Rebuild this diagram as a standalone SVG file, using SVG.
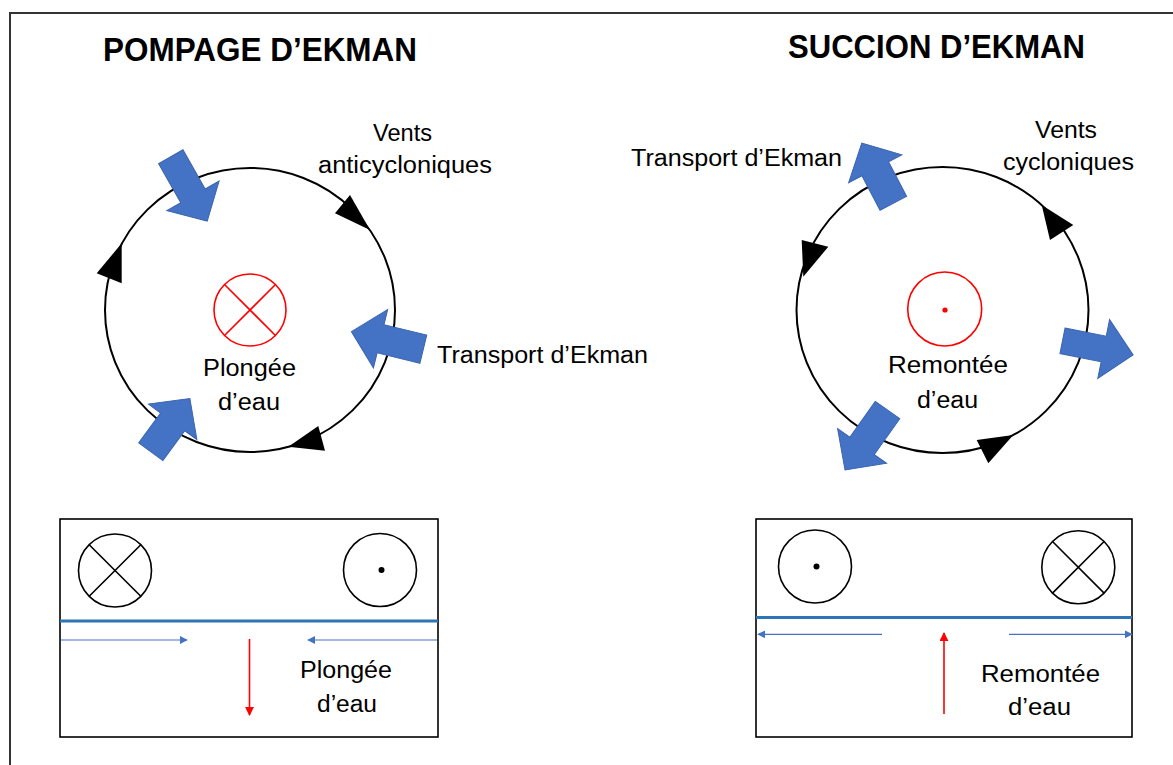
<svg xmlns="http://www.w3.org/2000/svg" width="1173" height="765" viewBox="0 0 1173 765">
<defs>
<style>
text{font-family:"Liberation Sans",Arial,sans-serif;font-size:23.5px;fill:#000}
.title{font-size:33px;font-weight:bold}
.big{fill:none;stroke:#000;stroke-width:2}
.red{fill:none;stroke:#FF0000;stroke-width:1.6}
.sm{fill:none;stroke:#000;stroke-width:1.6}
.tri{fill:#000}
.blk{fill:#4472C4;stroke:#3B64AE;stroke-width:1}
.box{fill:#fff;stroke:#000;stroke-width:1.6}
.surf{stroke:#2E75B6;stroke-width:3}
.thin{stroke:#4472C4;stroke-width:1.2;fill:none}
.rarr{stroke:#FF0000;stroke-width:1.6;fill:none}
</style>
<marker id="bh" viewBox="0 0 10 10" refX="9" refY="5" markerWidth="8" markerHeight="8" markerUnits="userSpaceOnUse" orient="auto">
<path d="M0,0 L10,5 L0,10 Z" fill="#4472C4"/>
</marker>
<marker id="rh" viewBox="0 0 10 10" refX="9" refY="5" markerWidth="9" markerHeight="9" markerUnits="userSpaceOnUse" orient="auto">
<path d="M0,0 L10,5 L0,10 Z" fill="#FF0000"/>
</marker>
</defs>
<rect width="1173" height="765" fill="#fff"/>
<g id="frame">
<polyline points="10,765 10,13 1173,13" fill="none" stroke="#333" stroke-width="2"/>
</g>

<g id="pompage">
<text class="title" x="103" y="61" textLength="314" lengthAdjust="spacingAndGlyphs">POMPAGE D’EKMAN</text>
<ellipse class="big" cx="250" cy="310" rx="145" ry="142"/>
<g id="plongee-center">
<circle class="red" cx="250" cy="310" r="36"/>
<line class="red" x1="224.5" y1="284.5" x2="275.5" y2="335.5"/>
<line class="red" x1="275.5" y1="284.5" x2="224.5" y2="335.5"/>
</g>
<polygon class="tri" points="350,195 335,213.3 370,230"/>
<polygon class="tri" points="121.7,243.3 96.7,273.3 121.7,283.3"/>
<polygon class="tri" points="318.3,426 325,450.7 288.3,446.7"/>
<text x="373" y="141" textLength="59" lengthAdjust="spacingAndGlyphs">Vents</text>
<text x="318" y="173" textLength="174" lengthAdjust="spacingAndGlyphs">anticycloniques</text>
<text x="437" y="363" textLength="211" lengthAdjust="spacingAndGlyphs">Transport d’Ekman</text>
<text x="203" y="376" textLength="93" lengthAdjust="spacingAndGlyphs">Plongée</text>
<text x="218" y="410" textLength="62" lengthAdjust="spacingAndGlyphs">d’eau</text>
</g>

<g id="succion">
<text class="title" x="788" y="58" textLength="297" lengthAdjust="spacingAndGlyphs">SUCCION D’EKMAN</text>
<ellipse class="big" cx="942.5" cy="310" rx="146" ry="143"/>
<g id="remontee-center">
<circle class="red" cx="944.7" cy="309" r="37"/>
<circle cx="945" cy="310" r="2.6" fill="#FF0000"/>
</g>
<polygon class="tri" points="1041.7,205 1050,240 1073.3,225"/>
<polygon class="tri" points="801.7,240 828.3,246.7 803.3,276.7"/>
<polygon class="tri" points="976.7,440 988.3,463.3 1013.3,435"/>
<text x="1035" y="138" textLength="62" lengthAdjust="spacingAndGlyphs">Vents</text>
<text x="1003" y="170" textLength="131" lengthAdjust="spacingAndGlyphs">cycloniques</text>
<text x="631" y="166" textLength="211" lengthAdjust="spacingAndGlyphs">Transport d’Ekman</text>
<text x="888" y="373" textLength="120" lengthAdjust="spacingAndGlyphs">Remontée</text>
<text x="917" y="408" textLength="61" lengthAdjust="spacingAndGlyphs">d’eau</text>
</g>

<g id="connectors">
<path class="blk" transform="translate(170.8,156.7) rotate(60.5)" d="M0,-14 L45,-14 L45,-30 L74,0 L45,30 L45,14 L0,14 Z"/>
<path class="blk" transform="translate(423.3,349.2) rotate(193.7)" d="M0,-14.5 L44,-14.5 L44,-30 L74,0 L44,30 L44,14.5 L0,14.5 Z"/>
<path class="blk" transform="translate(150.8,451.7) rotate(-53.7)" d="M0,-15 L37,-15 L37,-30 L66,0 L37,30 L37,15 L0,15 Z"/>
<path class="blk" transform="translate(893.3,203.3) rotate(-117.6)" d="M0,-15 L39,-15 L39,-30 L68,0 L39,30 L39,15 L0,15 Z"/>
<path class="blk" transform="translate(1062.5,340.8) rotate(11.3)" d="M0,-13 L42,-13 L42,-30 L72,0 L42,30 L42,13 L0,13 Z"/>
<path class="blk" transform="translate(887.5,410) rotate(125.3)" d="M0,-15 L44,-15 L44,-30 L73.5,0 L44,30 L44,15 L0,15 Z"/>
</g>

<g id="box-pompage">
<rect class="box" x="60" y="519" width="378" height="218"/>
<circle class="sm" cx="115" cy="570.5" r="36.5"/>
<line class="sm" x1="89.2" y1="544.7" x2="140.8" y2="596.3"/>
<line class="sm" x1="140.8" y1="544.7" x2="89.2" y2="596.3"/>
<circle class="sm" cx="380" cy="570" r="36.5"/>
<circle cx="381.5" cy="570" r="3" fill="#000"/>
<line class="surf" x1="60" y1="621" x2="438" y2="621"/>
<text x="300" y="678" textLength="92" lengthAdjust="spacingAndGlyphs">Plongée</text>
<text x="317" y="712" textLength="60" lengthAdjust="spacingAndGlyphs">d’eau</text>
</g>
<g id="box-pompage-arrows">
<line class="thin" x1="61" y1="640" x2="187" y2="640" marker-end="url(#bh)"/>
<line class="thin" x1="437" y1="640" x2="308" y2="640" marker-end="url(#bh)"/>
<line class="rarr" x1="249.5" y1="639" x2="249.5" y2="715" marker-end="url(#rh)"/>
</g>

<g id="box-succion">
<rect class="box" x="756" y="519" width="376" height="218"/>
<circle class="sm" cx="815" cy="566.5" r="36.5"/>
<circle cx="816.5" cy="566.5" r="3" fill="#000"/>
<circle class="sm" cx="1078.3" cy="567.3" r="36.5"/>
<line class="sm" x1="1052.5" y1="541.5" x2="1104.1" y2="593.1"/>
<line class="sm" x1="1104.1" y1="541.5" x2="1052.5" y2="593.1"/>
<line class="surf" x1="756" y1="617.5" x2="1132" y2="617.5"/>
<text x="981" y="682" textLength="119" lengthAdjust="spacingAndGlyphs">Remontée</text>
<text x="1008" y="715" textLength="63" lengthAdjust="spacingAndGlyphs">d’eau</text>
</g>
<g id="box-succion-arrows">
<line class="thin" x1="882" y1="634.3" x2="758" y2="634.3" marker-end="url(#bh)"/>
<line class="thin" x1="1009" y1="634.3" x2="1132" y2="634.3" marker-end="url(#bh)"/>
<line class="rarr" x1="944" y1="714" x2="944" y2="633" marker-end="url(#rh)"/>
</g>
</svg>
